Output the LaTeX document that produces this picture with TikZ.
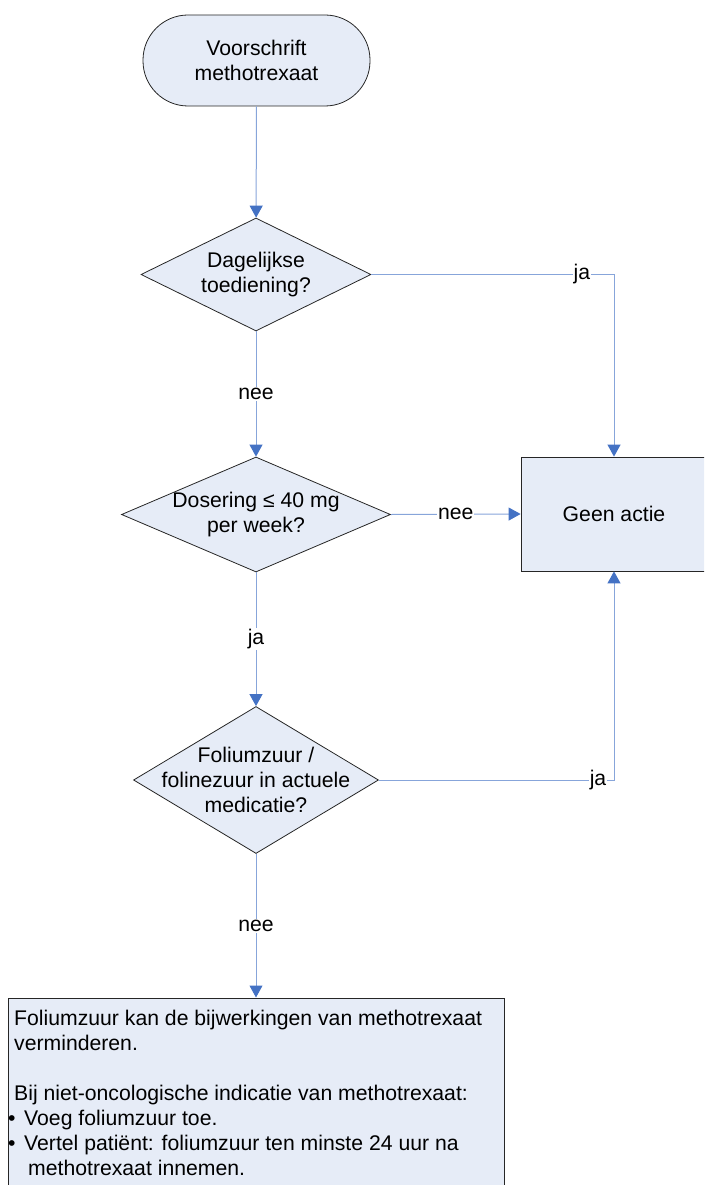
\documentclass[tikz,border=0pt]{standalone}
\usepackage{fontspec}
\setmainfont{Liberation Sans}
\usetikzlibrary{arrows.meta, shapes.geometric}
\definecolor{vulblauw}{RGB}{230,236,247}
\definecolor{lijnblauw}{RGB}{135,165,218}
\definecolor{pijlblauw}{RGB}{68,114,196}

\begin{document}
\begin{tikzpicture}[x=1pt, y=1pt, font=\fontsize{21.2}{25}\selectfont]
    \tikzset{blok/.style={draw=black!85, fill=vulblauw, line width=0.8pt}}
    \tikzset{keuze/.style={blok, diamond, inner sep=0pt}}
    \tikzset{vraag/.style={align=center, inner sep=0pt}}
    \tikzset{etiket/.style={fill=white, inner sep=1pt}}
    \tikzset{pijl/.style={draw=lijnblauw, line width=1pt, -{Triangle[length=12pt, width=13pt, color=pijlblauw]}}}
    \useasboundingbox (0, 0) rectangle (704, -1185);
    \clip (0, 0) rectangle (704, -1185);
    \node[blok, rectangle, rounded corners=45pt, minimum width=227, minimum height=91, align=center] (start) at (256.5, -60.5) {Voorschrift\\methotrexaat};
    \node[keuze, minimum width=230, minimum height=113] (dag) at (256, -274.5) {};
    \node[vraag] (dagtekst) at (dag) {Dagelijkse\\toediening?};
    \node[keuze, minimum width=269, minimum height=115] (dos) at (256, -514.5) {};
    \node[vraag] (dostekst) at (dos) {Dosering ≤ 40 mg\\per week?};
    \node[keuze, minimum width=245, minimum height=147] (fol) at (256, -780) {};
    \node[vraag] (foltekst) at (fol) {Foliumzuur /\\folinezuur in actuele\\medicatie?};
    \node[blok, rectangle, minimum width=186, minimum height=114] (geen) at (614, -514) {Geen actie};
    \node[blok, rectangle, anchor=north, minimum width=496, minimum height=240] (advies) at (256, -997.5) {};
    \node[anchor=north west, align=left, inner sep=0pt] (adviestekst) at (14, -1010) {Foliumzuur kan de bijwerkingen van methotrexaat\\
        verminderen.\\[25pt]
        Bij niet-oncologische indicatie van methotrexaat:\\
        \hspace*{-6pt}•\hspace{8.6pt}Voeg foliumzuur toe.\\
        \hspace*{-6pt}•\hspace{8.6pt}Vertel patiënt: foliumzuur ten minste 24 uur na\\
        \hspace*{14pt}methotrexaat innemen.};
    \draw[pijl] (start) -- (dag);
    \draw[pijl] (dag) -- node[etiket] {nee} (dos);
    \draw[pijl] (dos) -- node[etiket] {ja} (fol);
    \draw[pijl] (fol) -- node[etiket] {nee} (advies);
    \draw[pijl] (dag.east) -| node[etiket, pos=0.434] {ja} (geen.north);
    \draw[pijl] (dos.east) -- node[etiket] {nee} (geen.west);
    \draw[pijl] (fol.east) -| node[etiket, pos=0.466] {ja} (geen.south);
\end{tikzpicture}
\end{document}
